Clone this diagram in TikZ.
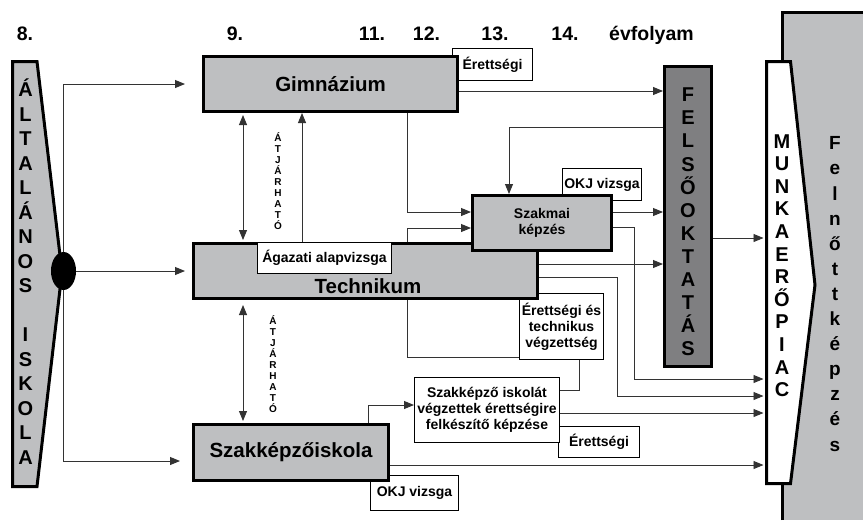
\documentclass[tikz,border=0pt]{standalone}
\usepackage{fontspec}
\setmainfont{Liberation Sans}
\usetikzlibrary{arrows.meta,shapes.geometric}
\definecolor{boxgray}{RGB}{190,191,193}
\definecolor{darkbox}{RGB}{127,127,129}
\newcommand\bigboxfont{\fontsize{20.5}{24}\selectfont\bfseries}
\newcommand\noteboxfont{\fontsize{14}{16}\selectfont\bfseries}
\newcommand\yearfont{\fontsize{19.5}{22}\selectfont\bfseries}

\begin{document}
\begin{tikzpicture}[x=1pt,y=-1pt,>={Triangle[length=10pt,width=8pt]},
    bigbox/.style={draw,line width=3pt,fill=boxgray,inner sep=0pt,font=\bigboxfont},
    notebox/.style={draw,line width=1pt,fill=white,inner sep=0pt,align=center,font=\noteboxfont},
    conn/.style={draw=black!80,line width=0.9pt},
    stack/.style={align=center,inner sep=0pt,font=\fontsize{20}{#1}\selectfont\bfseries},
    smallstack/.style={align=center,inner sep=0pt,font=\fontsize{10}{11}\selectfont\bfseries},
    year/.style={anchor=base,font=\yearfont}]
  \useasboundingbox (0,0) rectangle (863,520);

  \fill[boxgray] (782.5,12) rectangle (863,520);
  \draw[line width=3pt] (782.5,520) -- (782.5,12) -- (863,12);
  \draw[line width=3pt,fill=white] (766.5,61.5) -- (790.5,61.5) -- (815,285) -- (790.5,483.5) -- (766.5,483.5) -- cycle;
  \draw[line width=3pt,fill=boxgray] (12.5,61.5) -- (37,61.5) -- (62,272) -- (37,486.5) -- (12.5,486.5) -- cycle;

  \node[notebox,minimum width=80,minimum height=32] (eret1) at (492.5,64.5) {Érettségi};
  \node[notebox,minimum width=79,minimum height=32] (okj1) at (602,184.5) {OKJ vizsga};
  \node[notebox,minimum width=84,minimum height=66] (eret2) at (561.5,326.5) {Érettségi és\\technikus\\végzettség};
  \node[notebox,minimum width=81,minimum height=31] (eret3) at (599,442) {Érettségi};
  \node[notebox,minimum width=88,minimum height=35] (okj2) at (414.5,493) {OKJ vizsga};

  \node[bigbox,minimum width=254,minimum height=55] (gimn) at (330.5,84) {Gimnázium};
  \node[bigbox,minimum width=344,minimum height=55] (tech) at (365.5,271) {};
  \node[bigbox,minimum width=195,minimum height=56] (szki) at (291,452.5) {Szakképzőiskola};
  \node[bigbox,minimum width=139,minimum height=55,align=center,font=\noteboxfont] (szakm) at (542,223) {Szakmai\\képzés};
  \node[bigbox,fill=darkbox,minimum width=47,minimum height=300] (felso) at (688,216.5) {};
  \node[notebox,minimum width=134,minimum height=31] (agaz) at (324.5,258) {Ágazati alapvizsga};
  \node[notebox,minimum width=145,minimum height=65] (szkisk) at (487,410) {Szakképző iskolát\\végzettek érettségire\\felkészítő képzése};
  \node[anchor=base,font=\bigboxfont] (techtxt) at ([shift={(2.5,22.3)}]tech.center) {Technikum};
  \node[ellipse,fill=black,minimum width=25,minimum height=38,inner sep=0pt] (dot) at (63.5,271) {};

  \node[year] (y8) at (25,40.7) {8.};
  \node[year] (y9) at (235,40.7) {9.};
  \node[year] (y11) at (372,40.7) {11.};
  \node[year] (y12) at (426.5,40.7) {12.};
  \node[year] (y13) at (495,40.7) {13.};
  \node[year] (y14) at (565,40.7) {14.};
  \node[year] (evf) at (651.5,40.7) {évfolyam};

  \node[stack=24.5] (alttxt) at (25.5,271.4) {Á\\L\\T\\A\\L\\Á\\N\\O\\S\\~\\I\\S\\K\\O\\L\\A};
  \node[stack=23.1] (felsotxt) at (688,222) {F\\E\\L\\S\\Ő\\O\\K\\T\\A\\T\\Á\\S};
  \node[stack=22.6] (munkatxt) at (782,265.6) {M\\U\\N\\K\\A\\E\\R\\Ő\\P\\I\\A\\C};
  \node[stack=25.1,font=\fontsize{19}{25.1}\selectfont\bfseries] (felnotxt) at (835,294) {F\\e\\l\\n\\ő\\t\\t\\k\\é\\p\\z\\é\\s};
  \node[smallstack] (atj1) at (278,181.2) {Á\\T\\J\\Á\\R\\H\\A\\T\\Ó};
  \node[smallstack] (atj2) at (273,364.5) {Á\\T\\J\\Á\\R\\H\\A\\T\\Ó};

  \coordinate (m1) at (763.5,379);
  \coordinate (m2) at (763.5,396);
  \coordinate (m3) at (763.5,413);
  \coordinate (m4) at (763.5,465);
  \coordinate (m5) at (763.5,238);
  \coordinate (g1) at ([yshift=-7]gimn.east);
  \coordinate (s1) at ([yshift=11]szakm.east);
  \coordinate (t1) at ([yshift=7]tech.east);

  \draw[conn,->,shorten >=17] (dot) |- (gimn.west);
  \draw[conn,->,shorten >=7] (dot) -- (tech.west);
  \draw[conn,->,shorten >=12] (dot) |- ([yshift=-8.5]szki.west);
  \draw[conn,<->,shorten <=2,shorten >=2] ([xshift=-87.5]gimn.south) -- ([xshift=-122.5]tech.north);
  \draw[conn,<->,shorten <=5,shorten >=2] ([xshift=-122.5]tech.south) -- ([xshift=-48]szki.north);
  \draw[conn,->] ([xshift=-63.5]tech.north) -- ([xshift=-28.5]gimn.south);
  \draw[conn,->] (g1) -- (g1 -| felso.west);
  \draw[conn,->] ([xshift=76.5]gimn.south) |- ([yshift=11]szakm.west);
  \draw[conn,->] ([xshift=41.5]tech.north) |- ([yshift=-5]szakm.west);
  \draw[conn,->] ([yshift=89.5]felso.west) -| ([xshift=-33]szakm.north);
  \draw[conn,->] (s1) -- (s1 -| felso.west);
  \draw[conn,->] ([yshift=-4]szakm.east) -- ++(21,0) |- (m1);
  \draw[conn,->] (t1) -- (t1 -| felso.west);
  \draw[conn,->] ([yshift=-6]tech.east) -- ++(78,0) |- (m2);
  \draw[conn] ([xshift=41.5]tech.south) |- ([yshift=-30.5]eret2.west);
  \draw[conn] ([xshift=17.5]eret2.south) |- ([yshift=20]szkisk.east);
  \draw[conn,->] ([yshift=-3]szkisk.east) -- (m3);
  \draw[conn,->] ([xshift=77]szki.north) |- ([yshift=5]szkisk.west);
  \draw[conn,->] ([yshift=-12.5]szki.east) -- (m4);
  \draw[conn,->] ([yshift=-21.5]felso.east) -- (m5);
\end{tikzpicture}
\end{document}
